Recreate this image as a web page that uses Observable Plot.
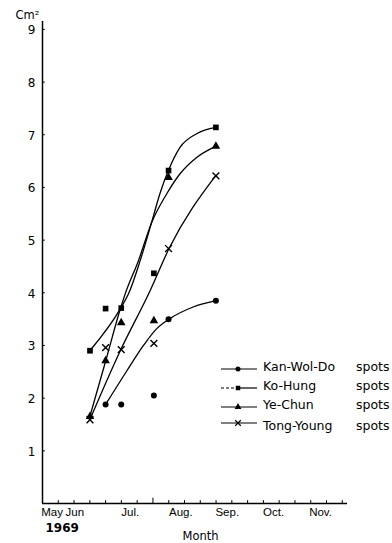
<!DOCTYPE html>
<html><head><meta charset="utf-8">
<script src="https://cdn.jsdelivr.net/npm/d3@7"></script>
<script src="https://cdn.jsdelivr.net/npm/@observablehq/plot@0.6"></script>
<style>body{margin:0;background:#fff}#chart{width:392px;height:543px}</style>
</head><body><div id="chart"></div>
<script>
// ---- data (x in months: 6 = Jun 1, 7 = Jul 1, ... ; y in cm²) ----
const series = ["Kan-Wol-Do", "Ko-Hung", "Ye-Chun", "Tong-Young"];
const sampleMonths = [6.67, 7.0, 7.33, 8.02, 8.33, 9.33]; // Jun 21, Jul 1, Jul 11, Aug 1, Aug 11, Sep 11
const kanWolDo  = [null, 1.88, 1.88, 2.05, 3.50, 3.85];
const koHung    = [2.90, 3.70, 3.71, 4.37, 6.32, 7.14];
const yeChun    = [1.65, 2.71, 3.43, 3.47, 6.19, 6.78];
const tongYoung = [1.59, 2.96, 2.92, 3.04, 4.84, 6.22];

// fitted curves as drawn in the figure
const kanCurveX  = [7.0, 7.45, 7.80, 8.08, 8.34, 8.85, 9.33];
const kanCurveY  = [1.88, 2.52, 3.00, 3.32, 3.50, 3.73, 3.85];
const koCurveX   = [6.667, 7.32, 7.484, 7.73, 7.976, 8.15, 8.326, 8.572, 8.924, 9.33];
const koCurveY   = [2.90, 3.71, 3.98, 4.61, 5.35, 5.89, 6.32, 6.76, 7.02, 7.14];
const yeCurveX   = [6.667, 7.0, 7.32, 7.414, 7.694, 7.976, 8.292, 8.572, 8.924, 9.324];
const yeCurveY   = [1.65, 2.70, 3.72, 3.98, 4.61, 5.34, 5.88, 6.26, 6.57, 6.78];
const tongCurveX = [6.667, 7.31, 7.94, 8.34, 9.33];
const tongCurveY = [1.59, 2.90, 4.04, 4.84, 6.23];

const monthLabels  = ["May", "Jun", "Jul.", "Aug.", "Sep.", "Oct.", "Nov."];
const monthLabelAt = [5.87, 6.35, 7.52, 8.59, 9.57, 10.55, 11.54];
const yTicks = [1, 2, 3, 4, 5, 6, 7, 8, 9];
const xTicks = d3.range(0, 19).map(k => 6 + k / 3);
const xDomain = [5.667, 12.11];
const yDomain = [0, 9.15];

// ---- tables ----
const valuesBySeries = [kanWolDo, koHung, yeChun, tongYoung];
const points = [];
valuesBySeries.forEach((vals, s) => vals.forEach((v, i) => {
  if (v != null) points.push({series: series[s], m: sampleMonths[i], v});
}));
const curveSets = [[kanCurveX, kanCurveY], [koCurveX, koCurveY], [yeCurveX, yeCurveY], [tongCurveX, tongCurveY]];
const curves = [];
curveSets.forEach(([xs, ys], s) => xs.forEach((m, i) => curves.push({series: series[s], m, v: ys[i]})));

const symbols = ["circle", "square", "triangle", "times"];
const font = "DejaVu Sans";
const axisFont = "Liberation Sans";

const dotMarks = series.map((name, s) => {
  const pts = points.filter(p => p.series === name);
  return symbols[s] === "times"
    ? Plot.dot(pts, {x: "m", y: "v", symbol: "times", r: 3.2, stroke: "black", strokeWidth: 1.4})
    : Plot.dot(pts, {x: "m", y: "v", symbol: symbols[s], r: symbols[s] === "circle" ? 3 : 3.2, fill: "black", stroke: "none"});
});

const plot = Plot.plot({
  width: 392, height: 543,
  marginTop: 21, marginBottom: 40, marginLeft: 42, marginRight: 45,
  style: {fontFamily: font, fontSize: "11px", color: "black", background: "white", overflow: "visible"},
  x: {domain: xDomain, axis: null},
  y: {domain: yDomain, axis: null},
  marks: [
    Plot.ruleX([xDomain[0]], {y1: yDomain[0], y2: yDomain[1], stroke: "black", strokeWidth: 1.5}),
    Plot.ruleY([0], {x1: xDomain[0], x2: xDomain[1], stroke: "black", strokeWidth: 1.5}),
    Plot.ruleY(yTicks, {x1: xDomain[0], x2: xDomain[0] + 0.06, stroke: "black", strokeWidth: 1}),
    Plot.text(yTicks, {x: xDomain[0], y: d => d, dx: -7, dy: 1, textAnchor: "end", fontSize: 12}),
    Plot.ruleX(xTicks, {y1: 0, y2: d => Math.abs(d - 8) < 0.01 ? 0.1 : 0.055, stroke: "black", strokeWidth: 1}),
    Plot.text(monthLabels, {x: (d, i) => monthLabelAt[i], y: 0, dy: 9, fontSize: 11.5, fontFamily: axisFont}),
    Plot.line(curves, {x: "m", y: "v", z: "series", curve: "monotone-x", stroke: "black", strokeWidth: 1.3}),
    ...dotMarks,
    Plot.text(["Cm²"], {frameAnchor: "top-left", dx: -27, dy: -11, textAnchor: "start", fontSize: 11.5}),
    Plot.text(["1969"], {frameAnchor: "bottom-left", dx: 3, dy: 28, textAnchor: "start", fontSize: 12, fontWeight: "bold"}),
    Plot.text(["Month"], {frameAnchor: "bottom", dx: 5.5, dy: 36, fontSize: 11.5})
  ]
});

// ---- legend ----
const svg = d3.select(plot);
const legend = svg.append("g").attr("font-family", font).attr("font-size", 12.5).attr("text-anchor", "start");
const rowsY = [367, 386, 405, 426];
const d3sym = [d3.symbolCircle, d3.symbolSquare, d3.symbolTriangle, d3.symbolTimes];
series.forEach((name, i) => {
  const y = rowsY[i];
  const ly = y + (i === 3 ? -3 : 2);
  const g = legend.append("g");
  if (i === 1) {
    g.append("line").attr("x1", 221).attr("x2", 236).attr("y1", ly).attr("y2", ly)
      .attr("stroke", "black").attr("stroke-width", 1.2).attr("stroke-dasharray", "3,2");
    g.append("line").attr("x1", 236).attr("x2", 257).attr("y1", ly).attr("y2", ly)
      .attr("stroke", "black").attr("stroke-width", 1.2);
  } else {
    g.append("line").attr("x1", 221).attr("x2", 257).attr("y1", ly).attr("y2", ly)
      .attr("stroke", "black").attr("stroke-width", 1.2);
  }
  const path = g.append("path").attr("transform", `translate(238,${ly})`)
    .attr("d", d3.symbol(d3sym[i], i === 3 ? 22 : 20)());
  if (i === 3) path.attr("fill", "none").attr("stroke", "black").attr("stroke-width", 1.3);
  else path.attr("fill", "black");
  g.append("text").attr("x", 263).attr("y", y).attr("dy", "0.35em").attr("text-anchor", "start").text(name);
  g.append("text").attr("x", 356).attr("y", y).attr("dy", "0.35em").attr("text-anchor", "start").text("spots");
});

document.getElementById("chart").appendChild(plot);
</script>
</body></html>
